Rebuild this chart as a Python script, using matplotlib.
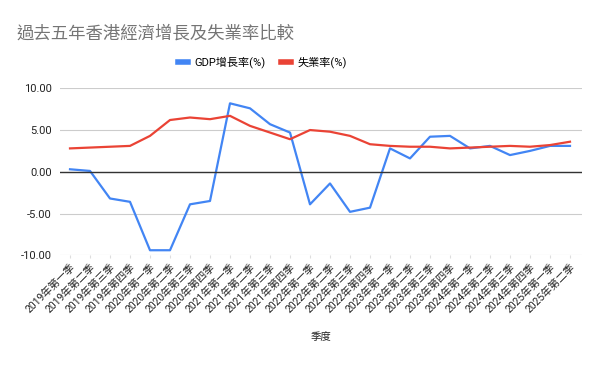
import matplotlib.pyplot as plt
import numpy as np

plt.rcParams['font.family'] = ['Roboto', 'Noto Sans CJK TC', 'DejaVu Sans']

# data
years = ['2019', '2020', '2021', '2022', '2023', '2024', '2025']
seasons = ['第一季', '第二季', '第三季', '第四季']
quarters = [y + '年' + s for y in years for s in seasons][:26]

gdp_growth = [0.3, 0.1, -3.2, -3.6, -9.4, -9.4, -3.9, -3.5,
              8.2, 7.6, 5.7, 4.7, -3.9, -1.4, -4.8, -4.3,
              2.8, 1.6, 4.2, 4.3, 2.8, 3.1, 2.0, 2.5, 3.1, 3.1]
unemployment = [2.8, 2.9, 3.0, 3.1, 4.3, 6.2, 6.5, 6.3,
                6.7, 5.5, 4.7, 3.9, 5.0, 4.8, 4.3, 3.3,
                3.1, 3.0, 3.0, 2.8, 2.9, 3.0, 3.1, 3.0, 3.2, 3.6]

fig = plt.figure(figsize=(6, 3.71), dpi=100)
ax = fig.add_axes([0.1, 0.312, 0.87, 0.45])

x = np.arange(len(quarters))
ax.plot(x, gdp_growth, color='#4285F4', lw=1.6, label='GDP增長率(%)')
ax.plot(x, unemployment, color='#EA4335', lw=1.6, label='失業率(%)')

ax.set_ylim(-10, 10)
ax.set_xlim(-0.5, 25.6)
ax.set_yticks([-10, -5, 0, 5, 10])
ax.set_yticklabels(['%.2f' % v for v in [-10, -5, 0, 5, 10]], fontsize=8, color='#222222')
ax.grid(axis='y', color='#cccccc', lw=0.8)
ax.axhline(0, color='#333333', lw=1)
for s in ax.spines.values():
    s.set_visible(False)
ax.tick_params(axis='y', length=0, pad=6)

ax.set_xticks(x)
ax.set_xticklabels(quarters, rotation=45, ha='right', rotation_mode='anchor',
                   fontsize=7.5, color='#222222')
ax.tick_params(axis='x', length=2, color='#dddddd', pad=3)
ax.set_xlabel('季度', fontsize=7.5, color='#222222', labelpad=12)

fig.text(0.028, 0.91, '過去五年香港經濟增長及失業率比較', fontsize=12.5,
         color='#757575', va='center', ha='left')
fig.legend(loc='center', bbox_to_anchor=(0.437, 0.833), ncol=2, frameon=False,
           fontsize=8, handlelength=0.9, handleheight=0.5, columnspacing=1.4,
           handletextpad=0.6)
for line in fig.legends[0].get_lines():
    line.set_linewidth(4)

fig.savefig('out.png', dpi=100)
